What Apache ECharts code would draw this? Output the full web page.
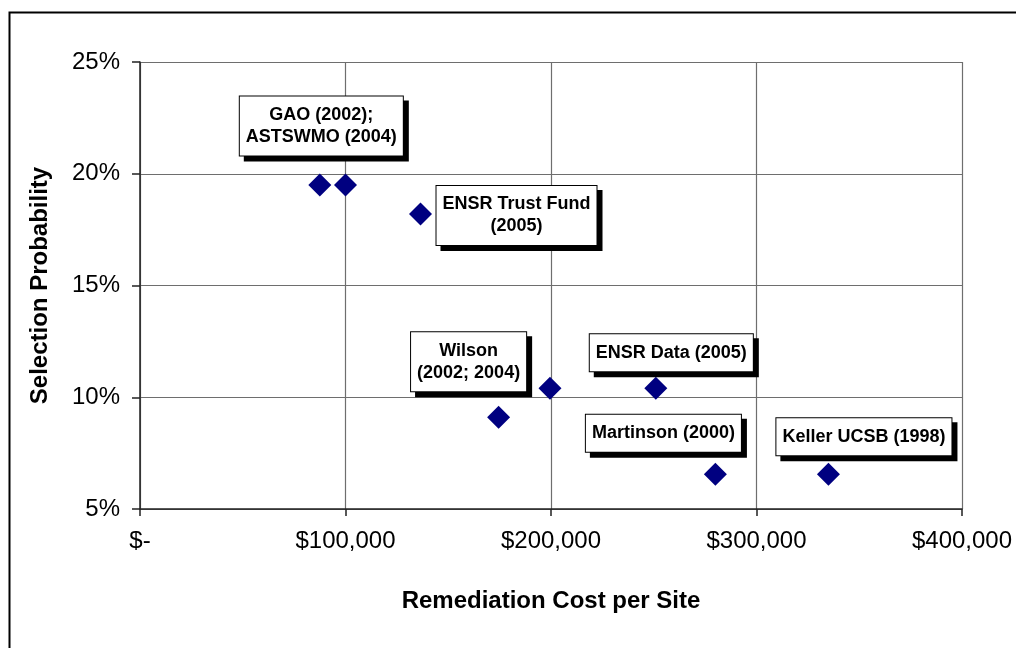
<!DOCTYPE html>
<html>
<head>
<meta charset="utf-8">
<title>Selection Probability vs Remediation Cost</title>
<script src="https://cdn.jsdelivr.net/npm/echarts@6/dist/echarts.min.js"></script>
<style>
  html, body { margin: 0; padding: 0; background: #fff; }
  #chart { width: 1016px; height: 648px; }
</style>
</head>
<body>
<div id="chart"></div>
<script>
// remediation cost per site ($) and selection probability (%)
const costs = [87500, 100000, 136500, 174500, 199500, 251000, 280000, 335000];
const probabilities = [19.5, 19.5, 18.2, 9.1, 10.4, 10.4, 6.55, 6.55];
const studyLabels = [
  "GAO (2002);\nASTSWMO (2004)",
  null,
  "ENSR Trust Fund\n(2005)",
  "Wilson\n(2002; 2004)",
  null,
  "ENSR Data (2005)",
  "Martinson (2000)",
  "Keller UCSB (1998)",
];
const xTicks = [0, 100000, 200000, 300000, 400000];
const yTicks = [5, 10, 15, 20, 25];

// where each callout box sits relative to its point (px)
const labelOffsets = [
  [1.5, -59],
  [0, 0],
  [96, 1.5],
  [-30, -55.5],
  [0, 0],
  [15.5, -35.5],
  [-52, -41],
  [35.5, -37.5],
];

const fontFamily = "'Liberation Sans', Arial, sans-serif";

const chart = echarts.init(document.getElementById("chart"));

const seriesData = costs.map((c, i) => {
  const item = { value: [c, probabilities[i]] };
  if (studyLabels[i]) {
    item.label = {
      show: true,
      formatter: studyLabels[i],
      offset: labelOffsets[i],
    };
  }
  return item;
});

const option = {
  animation: false,
  backgroundColor: "#fff",
  textStyle: { fontFamily: fontFamily },
  graphic: [
    {
      type: "rect",
      left: 7,
      top: 10,
      z: -10,
      shape: { width: 1030, height: 700 },
      style: { fill: "none", stroke: "#000", lineWidth: 2 },
    },
  ],
  grid: {
    left: 140,
    top: 62,
    right: 54,
    bottom: 139,
  },
  xAxis: {
    type: "value",
    min: xTicks[0],
    max: xTicks[xTicks.length - 1],
    interval: xTicks[1] - xTicks[0],
    name: "Remediation Cost per Site",
    nameLocation: "middle",
    nameGap: 80,
    nameTextStyle: {
      fontSize: 24,
      fontWeight: "bold",
      color: "#000",
      fontFamily: fontFamily,
    },
    axisLine: { show: true, onZero: false, lineStyle: { color: "#222", width: 1.5 } },
    axisTick: { show: true, length: 7, lineStyle: { color: "#222", width: 1.5 } },
    axisLabel: {
      margin: 20,
      fontSize: 24,
      color: "#000",
      fontFamily: fontFamily,
      formatter: (v) => (v === 0 ? "$-" : "$" + v.toLocaleString("en-US")),
    },
    splitLine: { show: true, lineStyle: { color: "#6e6e6e", width: 1.2 } },
  },
  yAxis: {
    type: "value",
    min: yTicks[0],
    max: yTicks[yTicks.length - 1],
    interval: yTicks[1] - yTicks[0],
    name: "Selection Probability",
    nameLocation: "middle",
    nameGap: 88,
    nameTextStyle: {
      fontSize: 24,
      fontWeight: "bold",
      color: "#000",
      fontFamily: fontFamily,
    },
    axisLine: { show: true, onZero: false, lineStyle: { color: "#222", width: 1.5 } },
    axisTick: { show: true, length: 8, lineStyle: { color: "#222", width: 1.5 } },
    axisLabel: {
      margin: 20,
      fontSize: 24,
      color: "#000",
      fontFamily: fontFamily,
      formatter: (v) => v + "%",
    },
    splitLine: { show: true, lineStyle: { color: "#6e6e6e", width: 1.2 } },
  },
  series: [
    {
      type: "scatter",
      symbol: "diamond",
      symbolSize: 23,
      itemStyle: { color: "#000080", opacity: 1 },
      emphasis: { disabled: true },
      label: {
        show: false,
        position: "inside",
        align: "center",
        fontSize: 18,
        fontWeight: "bold",
        fontFamily: fontFamily,
        color: "#000",
        lineHeight: 22,
        padding: [7.5, 6],
        backgroundColor: "#fff",
        borderColor: "#000",
        borderWidth: 1,
        shadowColor: "#000",
        shadowBlur: 0,
        shadowOffsetX: 5,
        shadowOffsetY: 5,
      },
      data: seriesData,
      z: 5,
    },
  ],
};

chart.setOption(option);
</script>
</body>
</html>
